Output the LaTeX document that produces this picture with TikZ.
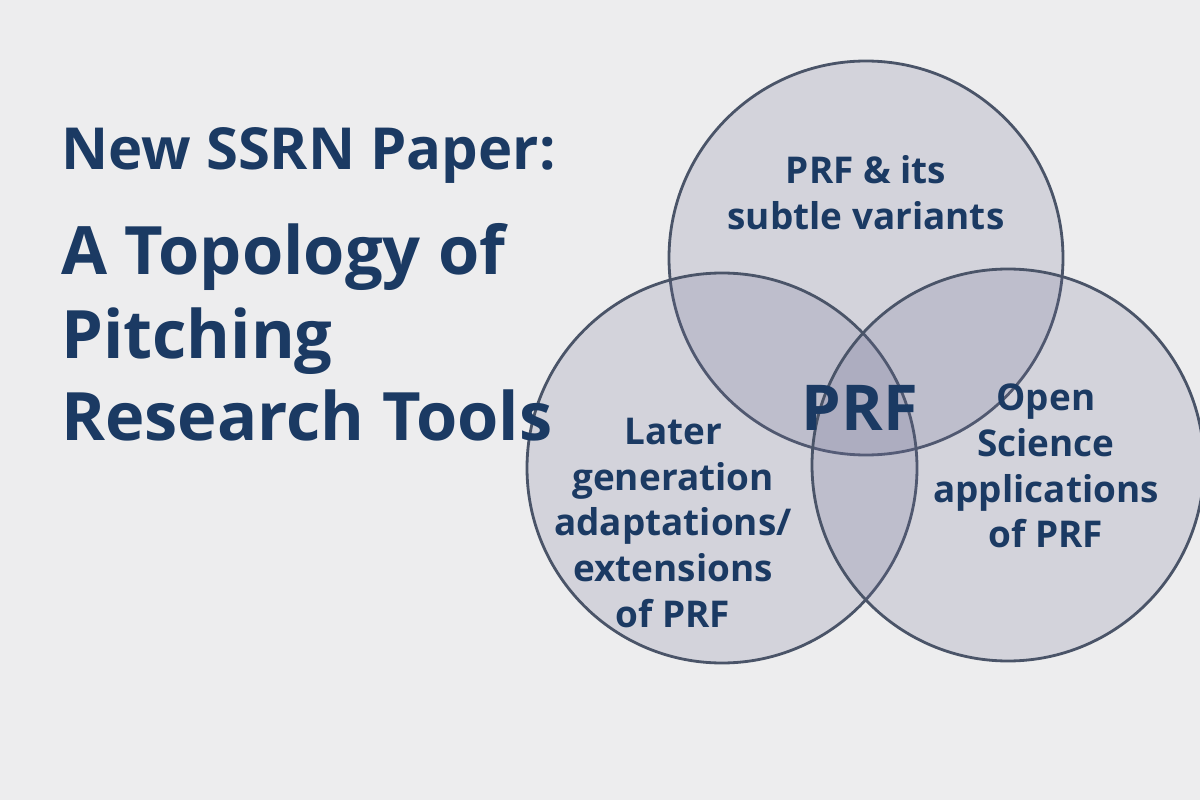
\documentclass[tikz,border=0pt]{standalone}
\usepackage{fontspec}
\setmainfont{Open Sans}
\begin{document}
\begin{tikzpicture}[x=0.02cm,y=-0.02cm]
\definecolor{bg}{HTML}{EDEDEE}
\definecolor{navy}{HTML}{1B3A63}
\definecolor{ring}{HTML}{4A5468}
\tikzset{venn/.style={draw=ring,line width=1.6pt,fill=gray!85!blue,fill opacity=0.2},
 lbl/.style={text=navy,font=\bfseries\fontsize{21}{26}\selectfont,align=center},
 ttl/.style={text=navy,font=\bfseries\fontsize{38}{44}\selectfont,anchor=base west}}
\fill[bg] (0,0) rectangle (1200,800);
\useasboundingbox (0,0) rectangle (1200,800);
\draw[venn] (866,258) circle (197);
\draw[venn] (722,468) circle (195);
\draw[venn] (1008,465) circle (196);
\node[ttl,font=\bfseries\fontsize{33}{38}\selectfont] (t0) at (55,170) {New SSRN Paper:};
\node[ttl] (t1) at (55,275) {A Topology of};
\node[ttl] (t2) at (55,358) {Pitching};
\node[ttl] (t3) at (55,440) {Research Tools};
\node[lbl] (a) at (866,193) {PRF \& its\\subtle variants};
\node[lbl] (b) at (673,523) {Later\\generation\\adaptations/\\extensions\\of PRF};
\node[lbl] (c) at (1046,466) {Open\\Science\\applications\\of PRF};
\node[text=navy,font=\bfseries\fontsize{36}{40}\selectfont] (p) at (860,408) {PRF};
\end{tikzpicture}
\end{document}
